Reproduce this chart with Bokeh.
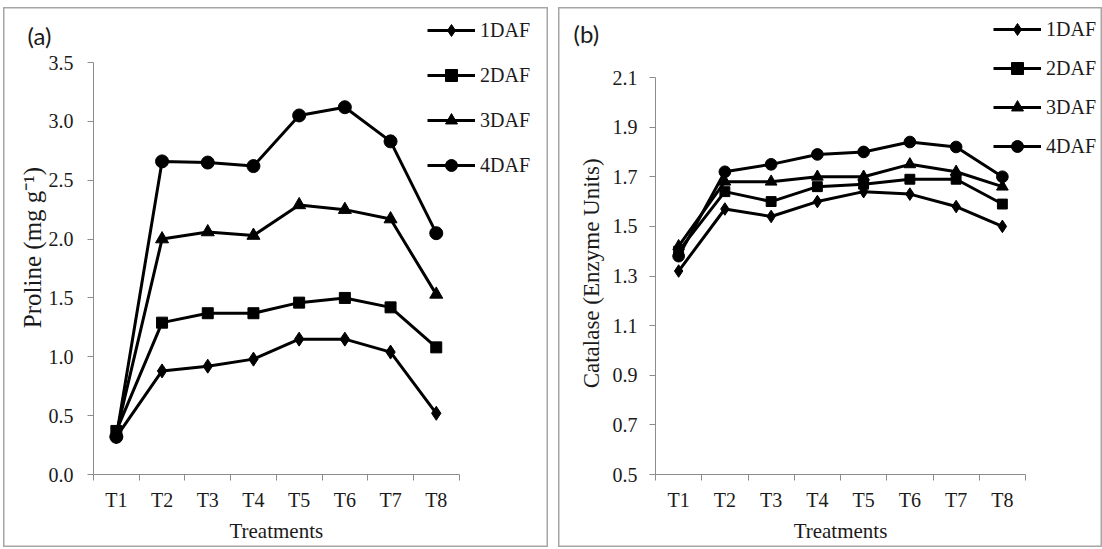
import math
from bokeh.plotting import figure
from bokeh.models import (Range1d, FixedTicker, Legend, LegendItem, Label, Spacer,
                          NumeralTickFormatter)
from bokeh.layouts import row, column
from bokeh.embed import file_html
from bokeh.resources import INLINE

# ---------------- data ----------------
treatments = ["T1", "T2", "T3", "T4", "T5", "T6", "T7", "T8"]
series_names = ["1DAF", "2DAF", "3DAF", "4DAF"]

proline_1daf = [0.32, 0.88, 0.92, 0.98, 1.15, 1.15, 1.04, 0.52]
proline_2daf = [0.37, 1.29, 1.37, 1.37, 1.46, 1.50, 1.42, 1.08]
proline_3daf = [0.35, 2.00, 2.06, 2.03, 2.29, 2.25, 2.17, 1.53]
proline_4daf = [0.32, 2.66, 2.65, 2.62, 3.05, 3.12, 2.83, 2.05]

catalase_1daf = [1.32, 1.57, 1.54, 1.60, 1.64, 1.63, 1.58, 1.50]
catalase_2daf = [1.40, 1.64, 1.60, 1.66, 1.67, 1.69, 1.69, 1.59]
catalase_3daf = [1.42, 1.68, 1.68, 1.70, 1.70, 1.75, 1.72, 1.66]
catalase_4daf = [1.38, 1.72, 1.75, 1.79, 1.80, 1.84, 1.82, 1.70]

proline_ticks = [0.0, 0.5, 1.0, 1.5, 2.0, 2.5, 3.0, 3.5]
catalase_ticks = [0.5, 0.7, 0.9, 1.1, 1.3, 1.5, 1.7, 1.9, 2.1]

SERIF = "Liberation Serif"
AXIS_GRAY = "#8c8c8c"
TEXT = "#1a1a1a"
TOP = 7      # canvas top (page px)
H = 540      # canvas height

markers = [("diamond", 14), ("square", 11), ("triangle", 13), ("circle", 13)]


def extent(v0, p0, v1, p1, c0, c1):
    """data values at canvas pixel c0, c1 given that v0 sits at pixel p0 and v1 at p1"""
    k = (v1 - v0) / (p1 - p0)
    return v0 + (c0 - p0) * k, v0 + (c1 - p0) * k


def make_panel(series, ticks, tag, ylabel, ylabel_size, width, canvas_left,
               x_px, y_px, tick_standoff, legend_left, legend_bottom, legend_spacing,
               tag_pos, ylab_pos, msize_scale):
    n = len(treatments)
    xr = extent(0.5, x_px[0], n + 0.5, x_px[1], canvas_left, canvas_left + width)
    y0, y1 = ticks[0], ticks[-1]
    yr = extent(y0, y_px[0], y1, y_px[1], TOP + H, TOP)
    p = figure(width=width, height=H, output_backend="svg", toolbar_location=None,
               x_range=Range1d(*xr), y_range=Range1d(*yr),
               min_border=0, min_border_left=0, min_border_right=0,
               min_border_top=0, min_border_bottom=0)
    p.outline_line_color = "#a6a6a6"
    p.outline_line_width = 2
    p.xgrid.visible = False
    p.ygrid.visible = False
    p.background_fill_color = "white"
    p.border_fill_color = "white"

    xs = list(range(1, n + 1))
    items = []
    for name, vals, (mk, ms) in zip(series_names, series, markers):
        lr = p.line(xs, vals, line_color="black", line_width=3)
        sr = p.scatter(xs, vals, marker=mk, size=ms * msize_scale,
                       fill_color="black", line_color="black")
        items.append(LegendItem(label=name, renderers=[lr, sr]))

    # x axis (fixed at the y-axis minimum)
    xa = p.xaxis[0]
    xa.fixed_location = y0
    xa.bounds = (0.5, n + 0.5)
    xa.ticker = FixedTicker(ticks=xs, minor_ticks=[x - 0.5 for x in xs] + [n + 0.5])
    xa.major_label_overrides = {x: t for x, t in zip(xs, treatments)}
    xa.major_tick_line_color = None
    xa.major_tick_out = 6
    xa.major_tick_in = 0
    xa.minor_tick_line_color = AXIS_GRAY
    xa.minor_tick_out = 6
    xa.minor_tick_in = 0
    xa.axis_line_color = AXIS_GRAY
    xa.major_label_text_font = SERIF
    xa.major_label_text_font_size = "20px"
    xa.major_label_text_color = TEXT
    xa.major_label_standoff = 8

    # y axis (fixed at the left category edge)
    ya = p.yaxis[0]
    ya.fixed_location = 0.5
    ya.bounds = (y0, y1)
    ya.ticker = FixedTicker(ticks=ticks)
    ya.formatter = NumeralTickFormatter(format="0.0")
    ya.major_tick_line_color = AXIS_GRAY
    ya.major_tick_out = 6
    ya.major_tick_in = 0
    ya.minor_tick_line_color = None
    ya.axis_line_color = AXIS_GRAY
    ya.major_label_text_font = SERIF
    ya.major_label_text_font_size = "20px"
    ya.major_label_text_color = TEXT
    ya.major_label_standoff = tick_standoff

    # axis titles
    p.add_layout(Label(x=(n + 1) / 2, y=TOP + H - 530, x_units="data", y_units="screen",
                       text="Treatments", text_font=SERIF, text_font_size="21px",
                       text_color=TEXT, text_align="center", text_baseline="middle"))
    p.add_layout(Label(x=ylab_pos[0] - canvas_left, y=TOP + H - ylab_pos[1],
                       x_units="screen", y_units="screen", angle=math.pi / 2,
                       text=ylabel, text_font=SERIF, text_font_size=ylabel_size,
                       text_color=TEXT, text_align="center", text_baseline="middle"))
    p.add_layout(Label(x=tag_pos[0] - canvas_left, y=TOP + H - tag_pos[1],
                       x_units="screen", y_units="screen",
                       text=tag, text_font="Lato", text_font_size="24px",
                       text_color=TEXT, text_baseline="middle", text_align="left"))

    legend = Legend(items=items,
                    location=(legend_left - canvas_left, TOP + H - legend_bottom),
                    orientation="vertical",
                    background_fill_alpha=0, border_line_color=None,
                    label_text_font=SERIF, label_text_font_size="20px",
                    label_text_color=TEXT, glyph_width=48, glyph_height=30,
                    label_height=20, label_standoff=5, spacing=legend_spacing,
                    padding=0, margin=0)
    p.add_layout(legend, "center")
    return p


p1 = make_panel([proline_1daf, proline_2daf, proline_3daf, proline_4daf], proline_ticks,
                "(a)", "Proline (mg g⁻¹)", "25px", 545, 3,
                (93, 458.6), (474, 62), 14, 427, 180, 15,
                (27, 35), (32, 247), 1.0)
p2 = make_panel([catalase_1daf, catalase_2daf, catalase_3daf, catalase_4daf], catalase_ticks,
                "(b)", "Catalase (Enzyme  Units)", "23px", 544, 558,
                (655, 1025), (474, 77), 12, 993, 161, 9,
                (573, 33), (591, 270), 0.9)

layout = column(Spacer(height=TOP),
                row(Spacer(width=3), p1, Spacer(width=10), p2))
open("out.html", "w").write(file_html(layout, INLINE))
